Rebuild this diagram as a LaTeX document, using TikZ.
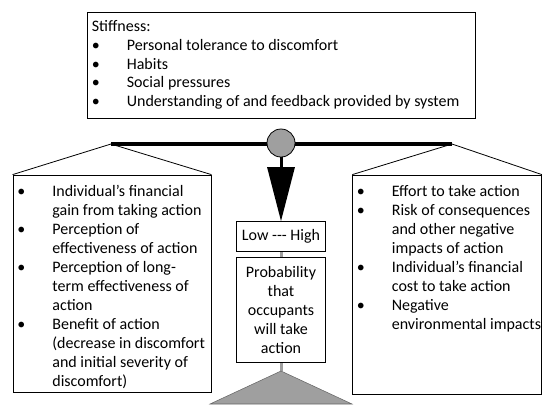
\documentclass[tikz,border=0pt]{standalone}
\usepackage{fontspec}
\setmainfont{Carlito}
\usepackage{tikz}
\usetikzlibrary{arrows.meta,positioning}
\tikzstyle{box} = [draw, rectangle, line width=0.6pt, inner sep=0pt]
\tikzstyle{txt} = [align=left, inner sep=0pt, anchor=north west]
\tikzstyle{post} = [draw=gray!75, line width=2.25pt]
\newcommand{\bul}[1]{\makebox[26.25pt][l]{\textbullet}#1}
\newcommand{\nxt}[1]{\hspace*{26.25pt}#1}

\begin{document}
\begin{tikzpicture}[x=0.75pt, y=-0.75pt, node distance = 4pt,
    font={\fontsize{12pt}{14.25pt}\selectfont}]
  \useasboundingbox (0,0) rectangle (542,404);
  % Place nodes
  \node [box, minimum width=291pt, minimum height=79.5pt] (stiff) at (281,65) {};
  \node [txt, font={\fontsize{12pt}{13.9pt}\selectfont}] (stifftxt)
    at ([shift={(5,9)}]stiff.north west)
  {Stiffness:\\
   \bul{Personal tolerance to discomfort}\\
   \bul{Habits}\\
   \bul{Social pressures}\\
   \bul{Understanding of and feedback provided by system}};

  \node [box, minimum width=148.5pt, minimum height=162.75pt] (gain) at (112,283.5) {};
  \node [txt] (gaintxt) at ([shift={(4.5,10.5)}]gain.north west)
  {\bul{Individual’s financial}\\
   \nxt{gain from taking action}\\
   \bul{Perception of}\\
   \nxt{effectiveness of action}\\
   \bul{Perception of long-}\\
   \nxt{term effectiveness of}\\
   \nxt{action}\\
   \bul{Benefit of action}\\
   \nxt{(decrease in discomfort}\\
   \nxt{and initial severity of}\\
   \nxt{discomfort)}};

  \node [box, minimum width=141.6pt, minimum height=164.25pt] (cost) at (447.1,284.5) {};
  \node [txt] (costtxt) at ([shift={(4.3,10.5)}]cost.north west)
  {\bul{Effort to take action}\\
   \bul{Risk of consequences}\\
   \nxt{and other negative}\\
   \nxt{impacts of action}\\
   \bul{Individual’s financial}\\
   \nxt{cost to take action}\\
   \bul{Negative}\\
   \nxt{environmental impacts}};

  \node [box, minimum width=66.75pt, minimum height=22.5pt] (level) at (281,236.6)
  {Low -{}-{}- High};
  \node [box, align=center, minimum width=66.75pt, minimum height=78.75pt,
    below=of level] (prob)
  {Probability\\that\\occupants\\will take\\action};

  % beam and pans
  \coordinate (lend) at (111,144);
  \coordinate (rend) at (452,144);
  \coordinate (apex) at (281,371);
  \draw [line width=0.6pt] (lend) -- (gain.north west);
  \draw [line width=0.6pt] (lend) -- (gain.north east);
  \draw [line width=0.6pt] (rend) -- (cost.north west);
  \draw [line width=0.6pt] (rend) -- (cost.north east);
  \draw [line width=3pt] (lend) -- (rend);
  \node [circle, draw, fill=gray!75, line width=0.6pt, minimum size=21pt,
    inner sep=0pt] (pivot) at (281,143) {};
  \draw [line width=2.25pt, -{Triangle[length=40.5pt,width=20.25pt]}]
    (pivot.south) -- (level.north);

  % fulcrum
  \draw [post] (level.south) -- (prob.north);
  \draw [post] (prob.south) -- (apex);
  \filldraw [fill=gray!75, draw=gray!80!black, line width=0.4pt]
    (apex) -- ++(-71,33) -- ++(142,0) -- cycle;
\end{tikzpicture}
\end{document}
